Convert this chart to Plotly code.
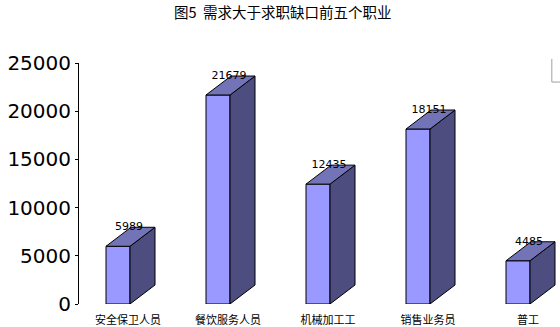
import plotly.graph_objects as go

categories = ["安全保卫人员", "餐饮服务人员", "机械加工工", "销售业务员", "普工"]
values = [5989, 21679, 12435, 18151, 4485]
y_ticks = [0, 5000, 10000, 15000, 20000, 25000]
title = "图5&nbsp;&nbsp;需求大于求职缺口前五个职业"

W = 0.12      # half width of front face (x units)
DX = 0.25     # depth offset in x units
DY = 1970     # depth offset in y units

front_x, front_y, top_x, top_y, side_x, side_y = [], [], [], [], [], []
for i, v in enumerate(values):
    c = i
    front_x += [c - W, c + W, c + W, c - W, c - W, None]
    front_y += [0, 0, v, v, 0, None]
    top_x += [c - W, c + W, c + W + DX, c - W + DX, c - W, None]
    top_y += [v, v, v + DY, v + DY, v, None]
    side_x += [c + W, c + W + DX, c + W + DX, c + W, c + W, None]
    side_y += [0, DY, v + DY, v, 0, None]

fig = go.Figure()
for xs, ys, col in [(front_x, front_y, "#9999FF"), (side_x, side_y, "#4D4D80"), (top_x, top_y, "#7373B8")]:
    fig.add_trace(go.Scatter(x=xs, y=ys, fill="toself", fillcolor=col, mode="lines",
                             line=dict(color="black", width=1), hoverinfo="skip",
                             showlegend=False, cliponaxis=False))

fig.add_trace(go.Scatter(
    x=[i + 0.11 for i in range(len(values))], y=[v + DY for v in values],
    mode="text", text=[str(v) for v in values], textposition="middle center",
    textfont=dict(family="DejaVu Sans", size=11, color="black"),
    showlegend=False, cliponaxis=False, hoverinfo="skip"))

fig.update_layout(
    width=560, height=327,
    margin=dict(l=79, r=0, t=63, b=23),
    paper_bgcolor="white", plot_bgcolor="white",
    title=dict(text=title, x=0.505, xanchor="center", y=0.962, yanchor="middle",
               font=dict(family="Noto Sans CJK SC", size=14.5, color="black")),
    xaxis=dict(range=[-0.39, 4.42], tickmode="array",
               tickvals=[i + 0.1 for i in range(len(categories))], ticktext=categories,
               showline=False, showgrid=False, zeroline=False, ticks="",
               ticklabelstandoff=8,
               tickfont=dict(family="Noto Sans CJK SC", size=11, color="black"),
               fixedrange=True),
    yaxis=dict(range=[0, 25000], tickmode="array", tickvals=y_ticks,
               ticktext=[str(t) for t in y_ticks],
               showline=True, linecolor="black",
               linewidth=1, ticks="outside", ticklen=3, tickcolor="black",
               showgrid=False, zeroline=False,
               tickfont=dict(family="DejaVu Sans", size=20, color="black")),
    shapes=[dict(type="path", xref="paper", yref="paper",
                 path="M 0.983 1.017 L 0.983 0.921 L 1.0 0.921",
                 line=dict(color="#A0A0A0", width=1))],
)

fig.write_html("out.html")
